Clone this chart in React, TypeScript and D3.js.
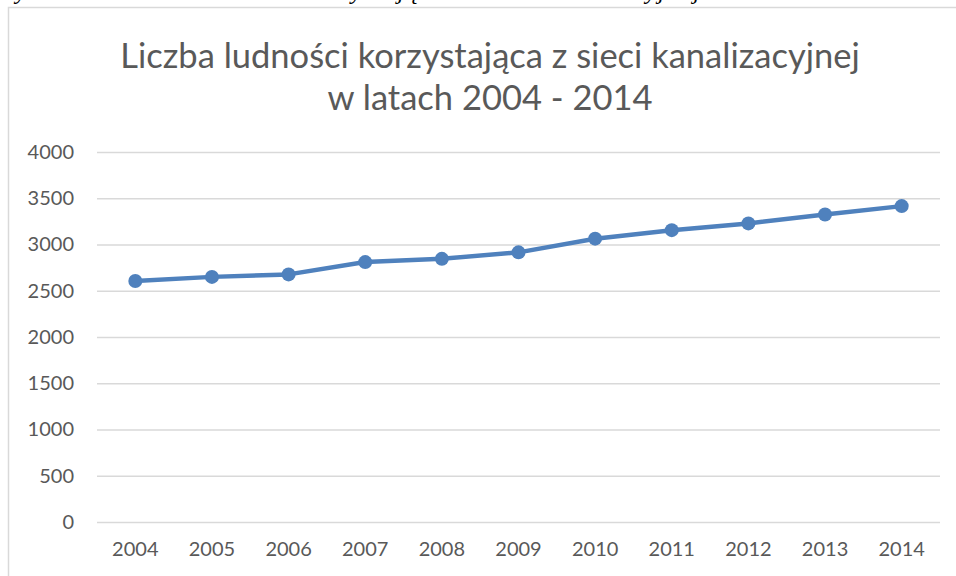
import React, { useEffect, useRef } from 'react';
import * as d3 from 'd3';

// lata i liczba ludności
const years = ['2004', '2005', '2006', '2007', '2008', '2009', '2010', '2011', '2012', '2013', '2014'];
const people = [2605, 2650, 2677, 2810, 2845, 2915, 3063, 3155, 3228, 3325, 3415];
const yTicks = [0, 500, 1000, 1500, 2000, 2500, 3000, 3500, 4000];
const titleLines = ['Liczba ludności korzystająca z sieci kanalizacyjnej', 'w latach 2004 - 2014'];
const captionAbove = 'Wykres 1. Liczba ludności korzystająca z sieci kanalizacyjnej w latach 2004 - 2014 r.';

export default function App() {
  const ref = useRef<SVGSVGElement>(null);

  useEffect(() => {
    const width = 956;
    const height = 576;
    const margin = { top: 152, right: 16, bottom: 54, left: 97 };
    const innerW = width - margin.left - margin.right;
    const innerH = height - margin.top - margin.bottom;

    const svg = d3.select(ref.current);
    svg.selectAll('*').remove();

    svg.append('rect').attr('width', width).attr('height', height).attr('fill', '#fff');

    // kawałek tekstu dokumentu nad wykresem (w oryginale ucięty)
    svg.append('text')
      .text(captionAbove)
      .attr('x', -4)
      .attr('y', -1)
      .attr('textLength', 980)
      .attr('font-family', '"Liberation Serif", serif')
      .attr('font-style', 'italic')
      .attr('font-size', 24)
      .attr('fill', '#000');

    // ramka wykresu
    svg.append('rect')
      .attr('x', 8.5).attr('y', 7.5)
      .attr('width', width + 20).attr('height', height + 20)
      .attr('fill', 'none').attr('stroke', '#d9d9d9').attr('stroke-width', 1.5);

    const title = svg.append('text')
      .attr('text-anchor', 'middle')
      .attr('font-family', 'Lato, sans-serif')
      .attr('font-size', 34.5)
      .attr('fill', '#595959');
    titleLines.forEach((t, i) => {
      title.append('tspan').attr('x', 490).attr('y', 68 + i * 42).text(t);
    });

    const x = d3.scaleBand().domain(years).range([0, innerW]);
    const y = d3.scaleLinear().domain([0, 4000]).range([innerH, 0]);

    const g = svg.append('g').attr('transform', `translate(${margin.left},${margin.top})`);

    g.append('g')
      .call(d3.axisLeft(y).tickValues(yTicks).tickFormat(d3.format('d')).tickSize(-innerW).tickPadding(23))
      .call(s => s.select('.domain').remove())
      .call(s => s.selectAll('line').attr('stroke', '#d9d9d9').attr('stroke-width', 1.5))
      .call(s => s.selectAll('text')
        .attr('font-family', 'Lato, sans-serif').attr('font-size', 20).attr('fill', '#595959'));

    g.append('g')
      .attr('transform', `translate(0,${innerH})`)
      .call(d3.axisBottom(x).tickSize(0).tickPadding(20))
      .call(s => s.select('.domain').remove())
      .call(s => s.selectAll('text')
        .attr('font-family', 'Lato, sans-serif').attr('font-size', 20).attr('fill', '#595959'));

    const cx = (i: number) => (x(years[i]) ?? 0) + x.bandwidth() / 2;

    const line = d3.line<number>().x((_, i) => cx(i)).y(d => y(d));
    g.append('path')
      .datum(people)
      .attr('d', line)
      .attr('fill', 'none')
      .attr('stroke', '#4f81bd')
      .attr('stroke-width', 4.5)
      .attr('stroke-linejoin', 'round');

    g.selectAll('circle')
      .data(people)
      .enter()
      .append('circle')
      .attr('cx', (_, i) => cx(i))
      .attr('cy', d => y(d))
      .attr('r', 7)
      .attr('fill', '#4f81bd');
  }, []);

  return (
    <svg ref={ref} width={956} height={576}
      style={{ position: 'fixed', top: 0, left: 0, display: 'block' }} />
  );
}
